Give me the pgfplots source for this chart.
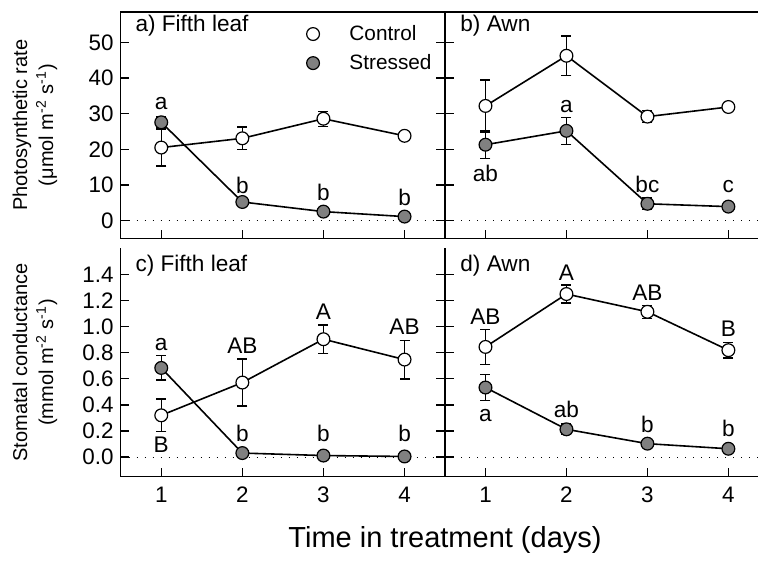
\documentclass[border=0pt]{standalone}
\usepackage{fontspec}
\setmainfont{Liberation Sans}
\usepackage{pgfplots}
\pgfplotsset{compat=1.18}

\newcommand{\fs}[1]{\fontsize{#1}{#1}\selectfont}

\tikzset{lab/.style={font=\fs{11.3}, inner sep=0pt}}

\pgfplotsset{
  panel/.style={
    scale only axis,
    xmin=0.5,
    xtick={1,2,3,4},
    tick align=inside,
    xtick pos=left,
    major tick length=4.3pt,
    axis line style={-, line width=0.7pt},
    every tick/.style={black, line width=0.7pt},
    tick label style={font=\fs{11.2}},
    xticklabel style={yshift=-1.5pt},
    /pgf/number format/assume math mode=true,
    every axis y label/.style={at={(rel axis cs:0,0.5)}, xshift=-42.9pt,
      rotate=90, anchor=center, align=center, font=\fontsize{10}{13}\selectfont},
  },
  errs/.style={forget plot, draw=none, mark=none,
    error bars/.cd, y dir=both, y explicit,
    error mark options={rotate=90, mark size=2.5pt, line width=0.7pt, black},
    error bar style={line width=0.7pt, black}},
  ctrl/.style={black, line width=0.8pt, mark=*, mark size=3.2pt,
    mark options={fill=white, draw=black, line width=0.6pt}},
  strs/.style={black, line width=0.8pt, mark=*, mark size=3.2pt,
    mark options={fill=gray, draw=black, line width=0.6pt}},
  zero/.style={forget plot, black, line width=0.6pt, dash pattern=on 0.6pt off 3.4pt},
}

\begin{document}
\begin{tikzpicture}

% a) photosynthetic rate, fifth leaf
\begin{axis}[panel, at={(60.35pt,161.85pt)}, anchor=south west,
  width=162.2pt, height=113.15pt, xmax=4.5,
  ymin=-5, ymax=58.6, ytick={0,10,...,50}, ytick pos=both, yticklabel pos=left,
  xticklabels={},
  ylabel={Photosynthetic rate\\(μmol m\textsuperscript{-2} s\textsuperscript{-1})},
  legend style={at={(rel axis cs:0.572,0.962)}, anchor=north west, draw=none, fill=none,
    font=\fs{10.4}, row sep=1.5pt, inner sep=0pt,
    /tikz/every odd column/.append style={column sep=13pt}},
  legend cell align=left,
  legend image code/.code={\draw[#1, only marks] plot coordinates {(0pt,0pt)};}]
\addplot[zero] coordinates {(0.5,0) (4.5,0)};
\addplot[errs] table[x=x, y=y, y error=e] {
x y e
1 20.5 5.2
2 23.1 3.2
3 28.6 2.1
4 23.8 0.8
};
\addplot[ctrl] table[x=x, y=y] {
x y
1 20.5
2 23.1
3 28.6
4 23.8
};
\addplot[errs] table[x=x, y=y, y error=e] {
x y e
1 27.6 1.5
2 5.2 0.8
3 2.5 0.8
4 1.1 0.5
};
\addplot[strs] table[x=x, y=y] {
x y
1 27.6
2 5.2
3 2.5
4 1.1
};
\legend{Control, Stressed}
\node[lab] at (axis cs:1,33) {a};
\node[lab] at (axis cs:2,10) {b};
\node[lab] at (axis cs:3,7.8) {b};
\node[lab] at (axis cs:4,6.6) {b};
\node[lab, anchor=west, xshift=7.2pt, yshift=-7pt] at (rel axis cs:0,1) {a) Fifth leaf};
\end{axis}

% b) photosynthetic rate, awn
\begin{axis}[panel, at={(222.5pt,161.85pt)}, anchor=south west,
  width=156.5pt, height=113.15pt, xmax=4.366,
  axis x line*=box, axis y line*=left,
  ymin=-5, ymax=58.6, ytick={0,10,...,50}, ytick pos=left,
  xticklabels={}, yticklabels={}]
\addplot[zero] coordinates {(0.5,0) (4.366,0)};
\addplot[errs] table[x=x, y=y, y error=e] {
x y e
1 32.2 7.3
2 46.3 5.5
3 29.2 1.7
4 31.9 0.8
};
\addplot[ctrl] table[x=x, y=y] {
x y
1 32.2
2 46.3
3 29.2
4 31.9
};
\addplot[errs] table[x=x, y=y, y error=e] {
x y e
1 21.3 3.9
2 25.2 3.8
3 4.7 1.6
4 3.9 0.6
};
\addplot[strs] table[x=x, y=y] {
x y
1 21.3
2 25.2
3 4.7
4 3.9
};
\node[lab] at (axis cs:1,13.3) {ab};
\node[lab] at (axis cs:2,32) {a};
\node[lab] at (axis cs:3,10.2) {bc};
\node[lab] at (axis cs:4,9.6) {c};
\node[lab, anchor=west, xshift=7.5pt, yshift=-7pt] at (rel axis cs:0,1) {b) Awn};
\end{axis}

% c) stomatal conductance, fifth leaf
\begin{axis}[panel, at={(60.35pt,42.65pt)}, anchor=south west,
  width=162.2pt, height=114.25pt, xmax=4.5,
  axis x line*=bottom, axis y line*=box,
  ymin=-0.15, ymax=1.6, ytick={0,0.2,...,1.4}, ytick pos=both, yticklabel pos=left,
  yticklabel style={/pgf/number format/.cd, fixed, fixed zerofill, precision=1},
  ylabel={Stomatal conductance\\(mmol m\textsuperscript{-2} s\textsuperscript{-1})}]
\addplot[zero] coordinates {(0.5,0) (4.5,0)};
\addplot[errs] table[x=x, y=y, y error=e] {
x y e
1 0.32 0.125
2 0.571 0.18
3 0.903 0.11
4 0.747 0.148
};
\addplot[ctrl] table[x=x, y=y] {
x y
1 0.32
2 0.571
3 0.903
4 0.747
};
\addplot[errs] table[x=x, y=y, y error=e] {
x y e
1 0.683 0.093
2 0.031 0.02
3 0.012 0.01
4 0.005 0.01
};
\addplot[strs] table[x=x, y=y] {
x y
1 0.683
2 0.031
3 0.012
4 0.005
};
\node[lab] at (axis cs:1,0.865) {a};
\node[lab] at (axis cs:1,0.095) {B};
\node[lab] at (axis cs:2,0.85) {AB};
\node[lab] at (axis cs:3,1.113) {A};
\node[lab] at (axis cs:4,0.998) {AB};
\node[lab] at (axis cs:2,0.18) {b};
\node[lab] at (axis cs:3,0.18) {b};
\node[lab] at (axis cs:4,0.18) {b};
\node[lab, anchor=west, xshift=7.2pt, yshift=-8.5pt] at (rel axis cs:0,1) {c) Fifth leaf};
\end{axis}

% d) stomatal conductance, awn
\begin{axis}[panel, at={(222.5pt,42.65pt)}, anchor=south west,
  width=156.5pt, height=114.25pt, xmax=4.366,
  axis x line*=bottom, axis y line*=left,
  ymin=-0.15, ymax=1.6, ytick={0,0.2,...,1.4}, ytick pos=left,
  yticklabels={}]
\addplot[zero] coordinates {(0.5,0) (4.366,0)};
\addplot[errs] table[x=x, y=y, y error=e] {
x y e
1 0.844 0.133
2 1.249 0.07
3 1.113 0.05
4 0.819 0.06
};
\addplot[ctrl] table[x=x, y=y] {
x y
1 0.844
2 1.249
3 1.113
4 0.819
};
\addplot[errs] table[x=x, y=y, y error=e] {
x y e
1 0.533 0.1
2 0.213 0.04
3 0.103 0.02
4 0.064 0.03
};
\addplot[strs] table[x=x, y=y] {
x y
1 0.533
2 0.213
3 0.103
4 0.064
};
\node[lab] at (axis cs:1,1.074) {AB};
\node[lab] at (axis cs:2,1.412) {A};
\node[lab] at (axis cs:3,1.259) {AB};
\node[lab] at (axis cs:4,0.985) {B};
\node[lab] at (axis cs:1,0.32) {a};
\node[lab] at (axis cs:2,0.366) {ab};
\node[lab] at (axis cs:3,0.251) {b};
\node[lab] at (axis cs:4,0.218) {b};
\node[lab, anchor=west, xshift=7.5pt, yshift=-8.5pt] at (rel axis cs:0,1) {d) Awn};
\end{axis}

\node[font=\fs{14.5}] at (222.5pt,11pt) {Time in treatment (days)};

\pgfresetboundingbox
\path[use as bounding box] (0,0) rectangle (379pt,281pt);
\end{tikzpicture}
\end{document}
